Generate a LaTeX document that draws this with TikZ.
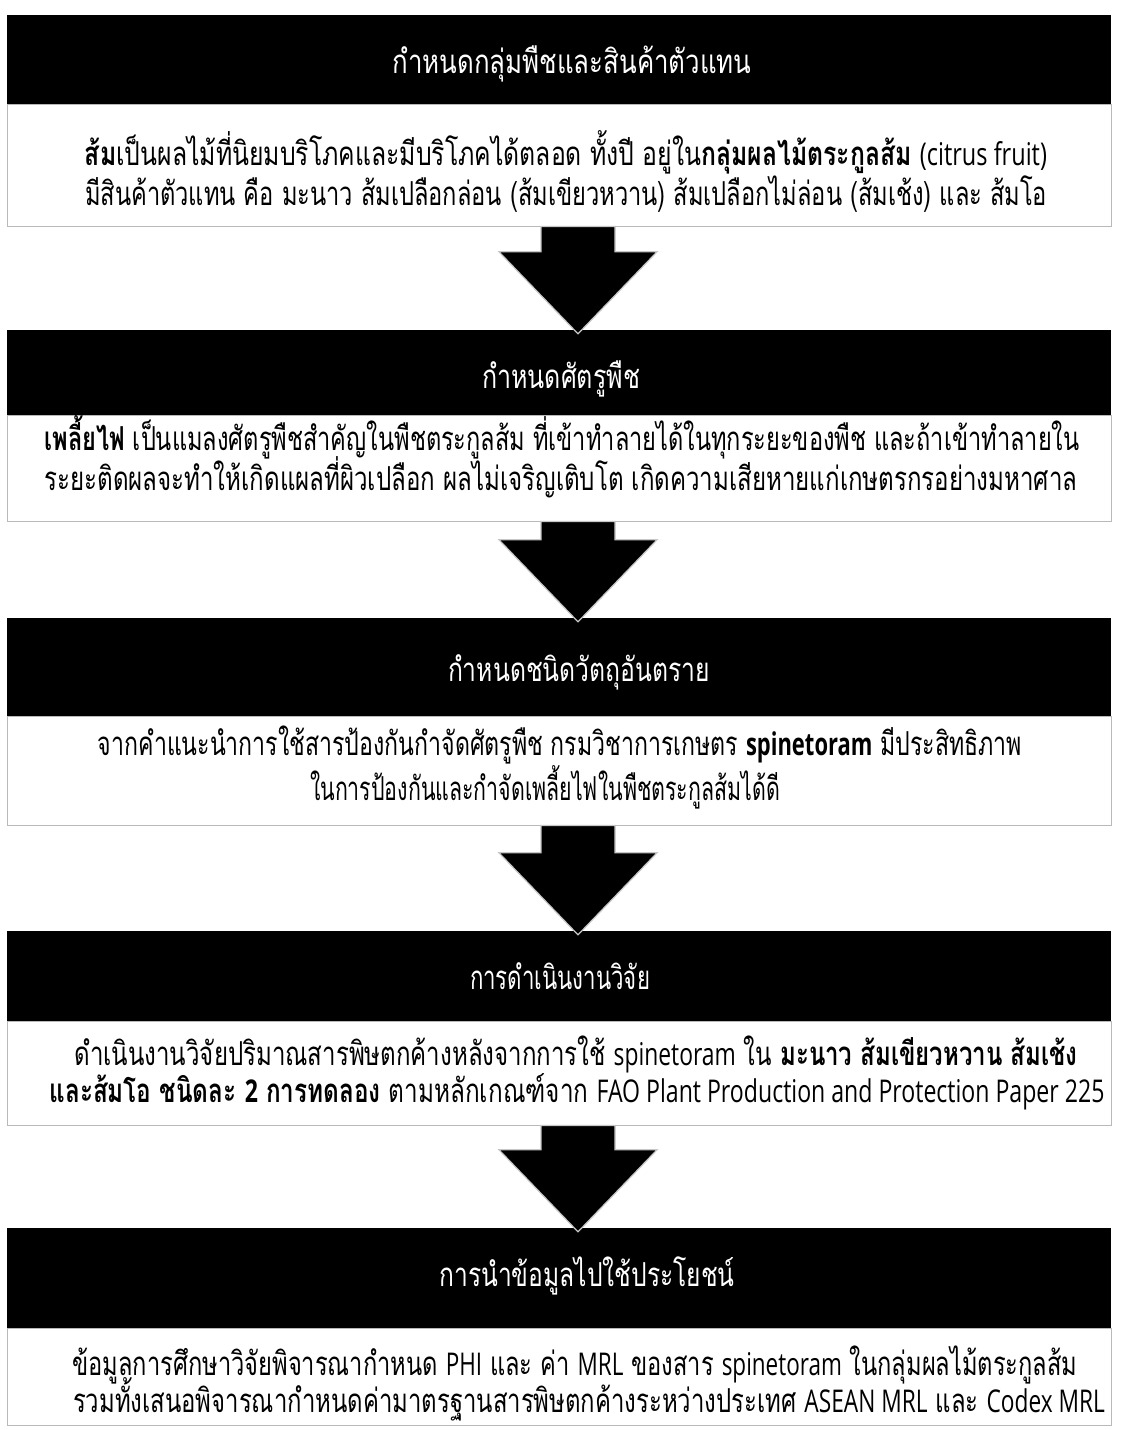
\documentclass[tikz,border=0pt]{standalone}
\usepackage{graphicx}
\usepackage{fontspec}
\setmainfont[Script=Thai]{Loma}
\newfontfamily\latf{Open Sans}[Scale=0.95]
\usetikzlibrary{calc}
\newdimen\fitdim
\newcommand\fitw[2]{\setbox0=\hbox{#2}\fitdim=\wd0\relax\pgfmathsetmacro\fitratio{#1/\fitdim}\scalebox{\fitratio}[1]{\box0}}
\newcommand\La[1]{{\latf #1}}
\newcommand\blockarrow[2]{%
  \path[blk] ($(#1.south)+(19-37,0)$) -- ($(#1.south)+(19+37,0)$)
    -- ($(#2.north)+(19+37,-78)$) -- ($(#2.north)+(19+79,-78)$)
    -- ($(#2.north)+(19,4)$) -- ($(#2.north)+(19-79,-78)$)
    -- ($(#2.north)+(19-37,-78)$) -- cycle;}
\begin{document}
\begin{tikzpicture}[x=1pt,y=-1pt,
  hdr/.style={fill=black, draw=none, minimum width=1104pt, inner sep=0pt},
  bodybox/.style={fill=white, draw=gray!55, line width=0.8pt, minimum width=1104pt, inner sep=0pt},
  ttl/.style={text=white, anchor=base, inner sep=0pt, font=\fontsize{33}{38}\selectfont},
  txt/.style={anchor=base, inner sep=0pt, font=\fontsize{33}{38}\selectfont},
  blk/.style={fill=black, draw=gray!45, line width=1.2pt, line join=miter}]
\useasboundingbox (0,0) rectangle (1129,1430);
\fill[white] (0,0) rectangle (1129,1430);
% headers and boxes
\node[hdr, minimum height=89pt] (h1) at (559,59.5) {};
\node[bodybox, minimum height=122pt] (b1) at (559,165) {};
\node[hdr, minimum height=85pt] (h2) at (559,372.5) {};
\node[bodybox, minimum height=106pt] (b2) at (559,468) {};
\node[hdr, minimum height=98pt] (h3) at (559,667) {};
\node[bodybox, minimum height=109pt] (b3) at (559,770.5) {};
\node[hdr, minimum height=90pt] (h4) at (559,976) {};
\node[bodybox, minimum height=104pt] (b4) at (559,1073) {};
\node[hdr, minimum height=100pt] (h5) at (559,1278) {};
\node[bodybox, minimum height=97pt] (b5) at (559,1376.5) {};
% arrows
\blockarrow{b1}{h2}
\blockarrow{b2}{h3}
\blockarrow{b3}{h4}
\blockarrow{b4}{h5}
% titles
\node[ttl] (t1) at (572,73) {\fitw{359}{กำหนดกลุ่มพืชและสินค้าตัวแทน}};
\node[ttl] (t2) at (561,388) {\fitw{158}{กำหนดศัตรูพืช}};
\node[ttl] (t3) at (579,681) {\fitw{262}{กำหนดชนิดวัตถุอันตราย}};
\node[ttl] (t4) at (560,989) {\fitw{180}{การดำเนินงานวิจัย}};
\node[ttl] (t5) at (587,1286) {\fitw{295}{การนำข้อมูลไปใช้ประโยชน์}};
% body texts
\node[txt] (l11) at (566,165) {\fitw{962}{\textbf{ส้ม}เป็นผลไม้ที่นิยมบริโภคและมีบริโภคได้ตลอด ทั้งปี อยู่ใน\textbf{กลุ่มผลไม้ตระกูลส้ม} \La{(citrus fruit)}}};
\node[txt] (l12) at (566,205) {\fitw{962}{มีสินค้าตัวแทน คือ มะนาว ส้มเปลือกล่อน (ส้มเขียวหวาน) ส้มเปลือกไม่ล่อน (ส้มเช้ง) และ ส้มโอ}};
\node[txt] (l21) at (562,450) {\fitw{1035}{\textbf{เพลี้ยไฟ} เป็นแมลงศัตรูพืชสำคัญในพืชตระกูลส้ม ที่เข้าทำลายได้ในทุกระยะของพืช และถ้าเข้าทำลายใน}};
\node[txt] (l22) at (561,490) {\fitw{1033}{ระยะติดผลจะทำให้เกิดแผลที่ผิวเปลือก ผลไม่เจริญเติบโต เกิดความเสียหายแก่เกษตรกรอย่างมหาศาล}};
\node[txt] (l31) at (560,755) {\fitw{924}{จากคำแนะนำการใช้สารป้องกันกำจัดศัตรูพืช กรมวิชาการเกษตร \La{\textbf{spinetoram}} มีประสิทธิภาพ}};
\node[txt] (l32) at (545,800) {\fitw{470}{ในการป้องกันและกำจัดเพลี้ยไฟในพืชตระกูลส้มได้ดี}};
\node[txt] (l41) at (576,1065) {\fitw{1003}{ดำเนินงานวิจัยปริมาณสารพิษตกค้างหลังจากการใช้ \La{spinetoram} ใน \textbf{มะนาว ส้มเขียวหวาน ส้มเช้ง}}};
\node[txt] (l42) at (577,1102) {\fitw{1055}{\textbf{และส้มโอ ชนิดละ \La{2} การทดลอง} ตามหลักเกณฑ์จาก \La{FAO Plant Production and Protection Paper 225}}};
\node[txt] (l51) at (575,1375) {\fitw{1005}{ข้อมูลการศึกษาวิจัยพิจารณากำหนด \La{PHI} และ ค่า \La{MRL} ของสาร \La{spinetoram} ในกลุ่มผลไม้ตระกูลส้ม}};
\node[txt] (l52) at (589,1412) {\fitw{1032}{รวมทั้งเสนอพิจารณากำหนดค่ามาตรฐานสารพิษตกค้างระหว่างประเทศ \La{ASEAN MRL} และ \La{Codex MRL}}};
\end{tikzpicture}
\end{document}
